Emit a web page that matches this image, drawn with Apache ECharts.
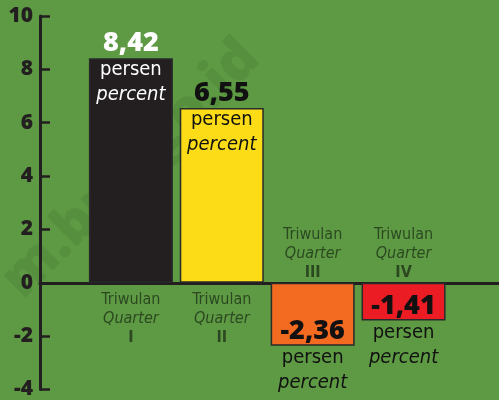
<!DOCTYPE html>
<html>
<head>
<meta charset="utf-8">
<script src="https://cdn.jsdelivr.net/npm/echarts@6/dist/echarts.min.js"></script>
<style>
  html, body { margin: 0; padding: 0; background: #5d9a43; }
  #chart { width: 499px; height: 400px; }
</style>
</head>
<body>
<div id="chart"></div>
<script>
  // data
  const quarters = ['I', 'II', 'III', 'IV'];
  const growth = [8.42, 6.55, -2.36, -1.41];
  const barColors = ['#231f20', '#fcdc17', '#f36b21', '#ec1c24'];
  const yTicks = [-4, -2, 0, 2, 4, 6, 8, 10];

  const narrow = "'Liberation Sans Narrow', 'DejaVu Sans Condensed', 'Open Sans', sans-serif";
  const heavy = "'Open Sans', 'DejaVu Sans', sans-serif";

  const fmt = v => v.toFixed(2).replace('.', ',');

  const barData = growth.map((v, i) => {
    const pos = v >= 0;
    const txt = i === 0 ? '#ffffff' : '#111111';
    return {
      value: [i + 1, v],
      itemStyle: { color: barColors[i] },
      label: {
        show: true,
        position: pos ? 'insideTop' : 'insideBottom',
        distance: 0,
        offset: pos ? [0, -29] : [0, 50],
        formatter: '{v|' + fmt(v) + '}\n{p|persen}\n{q|percent}',
        rich: {
          v: { fontFamily: heavy, fontWeight: 800, fontSize: 27, color: txt, height: 28, align: 'center' },
          p: { fontFamily: narrow, fontSize: 20, color: txt, height: 25, align: 'center' },
          q: { fontFamily: narrow, fontSize: 20, fontStyle: 'italic', color: txt, height: 25, align: 'center' }
        }
      }
    };
  });

  const catData = quarters.map((q, i) => ({
    value: [i + 1, 0],
    label: {
      show: true,
      position: growth[i] >= 0 ? 'bottom' : 'top',
      distance: growth[i] >= 0 ? 8 : 0,
      formatter: '{a|Triwulan}\n{b|Quarter}\n{c|' + q + '}',
      rich: {
        a: { fontFamily: narrow, fontSize: 16, color: '#1f3319', height: 19, align: 'center' },
        b: { fontFamily: narrow, fontSize: 16, fontStyle: 'italic', color: '#1f3319', height: 19, align: 'center' },
        c: { fontFamily: narrow, fontSize: 16, fontWeight: 'bold', color: '#1f3319', height: 19, align: 'center' }
      }
    }
  }));

  const chart = echarts.init(document.getElementById('chart'));
  const option = {
    backgroundColor: '#5d9a43',
    animation: false,
    graphic: [{
      type: 'text',
      left: -8,
      top: 30,
      rotation: Math.PI / 4,
      silent: true,
      style: {
        text: 'm.bpn.go.id',
        fontFamily: heavy,
        fontWeight: 800,
        fontSize: 56,
        fill: 'rgba(30,60,20,0.10)'
      }
    }],
    grid: { left: 40, right: 0, top: 16, bottom: 8 },
    xAxis: {
      type: 'value',
      min: 0,
      max: 5.05,
      axisLine: { show: true, onZero: true, lineStyle: { color: '#231f20', width: 3 } },
      axisTick: { show: false },
      axisLabel: { show: false },
      splitLine: { show: false }
    },
    yAxis: {
      type: 'value',
      min: yTicks[0],
      max: yTicks[yTicks.length - 1],
      interval: 2,
      axisLine: { show: true, lineStyle: { color: '#231f20', width: 3 } },
      axisTick: { show: true, inside: true, length: 10, lineStyle: { color: '#231f20', width: 2.5 } },
      axisLabel: {
        margin: 7,
        color: '#231f20',
        fontFamily: heavy,
        fontWeight: 800,
        fontSize: 21
      },
      splitLine: { show: false }
    },
    series: [
      {
        type: 'bar',
        barWidth: 84,
        data: barData,
        itemStyle: { borderColor: '#2a2a2a', borderWidth: 1.5 },
        z: 2
      },
      {
        type: 'scatter',
        symbolSize: 0,
        data: catData,
        z: 3
      }
    ]
  };
  chart.setOption(option);
  window.addEventListener('resize', function () {
    chart.resize();
  });
</script>
</body>
</html>
